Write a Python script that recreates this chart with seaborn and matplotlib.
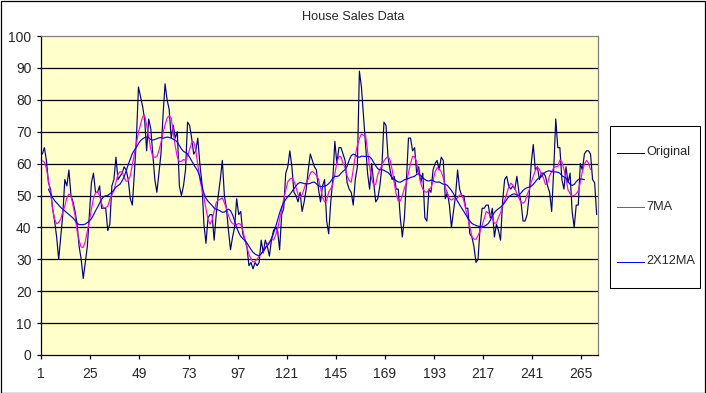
import numpy as np
import pandas as pd
import matplotlib
matplotlib.use("Agg")
import matplotlib.pyplot as plt
import seaborn as sns
from matplotlib.lines import Line2D
from matplotlib.patches import Rectangle

# Monthly new one-family house sales (Jan 1973 - Nov 1995)
sales = [
    55, 60, 68, 63, 65, 61, 54, 52, 46, 42, 37, 30,
    37, 44, 55, 53, 58, 50, 48, 45, 41, 34, 30, 24,
    29, 34, 44, 54, 57, 51, 51, 53, 46, 46, 46, 39,
    41, 53, 55, 62, 55, 56, 57, 59, 58, 55, 49, 47,
    57, 68, 84, 81, 78, 74, 64, 74, 71, 63, 55, 51,
    57, 63, 75, 85, 80, 77, 68, 72, 68, 70, 53, 50,
    53, 58, 73, 72, 68, 63, 64, 68, 60, 54, 41, 35,
    43, 44, 44, 36, 44, 50, 55, 61, 50, 46, 39, 33,
    37, 40, 49, 44, 45, 38, 36, 34, 28, 29, 27, 29,
    28, 29, 36, 32, 36, 34, 31, 36, 39, 40, 39, 33,
    44, 46, 57, 59, 64, 59, 51, 50, 48, 51, 45, 48,
    52, 58, 63, 61, 59, 58, 52, 48, 53, 55, 42, 38,
    48, 55, 67, 60, 65, 65, 63, 61, 54, 52, 51, 47,
    55, 59, 89, 84, 75, 66, 57, 52, 60, 54, 48, 49,
    53, 59, 73, 72, 62, 58, 55, 56, 52, 52, 43, 37,
    43, 55, 68, 68, 64, 65, 57, 59, 54, 57, 43, 42,
    52, 51, 58, 60, 61, 58, 62, 61, 49, 51, 47, 40,
    45, 50, 58, 52, 50, 50, 46, 46, 38, 37, 34, 29,
    30, 40, 46, 46, 47, 47, 43, 46, 37, 41, 39, 36,
    48, 55, 56, 53, 52, 53, 52, 56, 51, 48, 42, 42,
    44, 50, 60, 66, 58, 59, 55, 57, 57, 56, 53, 51,
    45, 58, 74, 65, 65, 55, 52, 59, 54, 57, 45, 40,
    47, 47, 60, 58, 63, 64, 64, 63, 55, 54, 44,
]
first_shown = 4          # chart starts at the 4th month of the series
series_names = ["Original", "7MA", "2X12MA"]
series_colors = ["#000080", "#FF00FF", "#0000FF"]
y_ticks = list(range(0, 101, 10))
x_tick_labels = list(range(1, 266, 24))
title = "House Sales Data"

s = pd.Series(sales, dtype=float)
ma7 = s.rolling(7, center=True).mean()
w = np.array([0.5] + [1.0] * 11 + [0.5]) / 12.0
ma2x12 = s.rolling(13, center=True).apply(lambda v: float(np.dot(v, w)), raw=True)

shown = slice(first_shown - 1, None)
pos = np.arange(1, len(s) - first_shown + 2)
df = pd.concat([
    pd.DataFrame({"pos": pos, "value": s[shown].values, "series": "Original"}),
    pd.DataFrame({"pos": pos, "value": ma7[shown].values, "series": "7MA"}),
    pd.DataFrame({"pos": pos, "value": ma2x12[shown].values, "series": "2X12MA"}),
]).dropna()

sns.set_style("white")
plt.rcParams["font.family"] = ["Liberation Sans", "DejaVu Sans"]

fig = plt.figure(figsize=(7.06, 3.93), dpi=100)
W, H = 706, 393
ax = fig.add_axes([41.3 / W, 1 - 355 / H, (597.7 - 41.3) / W, (355 - 36) / H])
ax.set_facecolor("#FFFFCC")

for yv in y_ticks[1:-1]:
    ax.axhline(yv, color="black", lw=0.9, zorder=1)

for name, col in zip(series_names, series_colors):
    sub = df[df["series"] == name]
    sns.lineplot(data=sub, x="pos", y="value", ax=ax, color=col, lw=0.85,
                 legend=False, zorder=3)

n = len(pos)
ax.set_xlim(0.5, n + 0.5)
ax.set_ylim(0, 100)
ax.set_yticks(y_ticks)
ax.set_yticklabels([str(v) for v in y_ticks], fontsize=10)
ax.set_xticks([v - 0.5 for v in x_tick_labels])
ax.set_xticklabels([str(v) for v in x_tick_labels], fontsize=10)
ax.tick_params(axis="both", direction="out", length=3, width=0.9, color="black",
               left=True, bottom=True)
ax.tick_params(axis="y", pad=4)
ax.tick_params(axis="x", pad=6)
ax.set_xlabel("")
ax.set_ylabel("")
for sp in ["left", "bottom"]:
    ax.spines[sp].set_color("black")
    ax.spines[sp].set_linewidth(0.9)
for sp in ["top", "right"]:
    ax.spines[sp].set_color("#808080")
    ax.spines[sp].set_linewidth(0.9)

fig.text(353 / W, 1 - 16.5 / H, title, ha="center", va="center", fontsize=9.2)

# Legend box drawn in figure pixels
fig.patches.append(Rectangle((609.5 / W, 1 - 287.5 / H), (699.5 - 609.5) / W,
                             (287.5 - 125.5) / H, transform=fig.transFigure,
                             fill=False, edgecolor="black", lw=0.75))
for name, col, yy in zip(series_names, series_colors, [152.5, 206.5, 261.5]):
    fig.lines.append(Line2D([616.5 / W, 643.5 / W], [1 - yy / H, 1 - yy / H],
                            transform=fig.transFigure, color=col, lw=0.7,
                            solid_capstyle="butt", antialiased=False))
    fig.text(646.5 / W, 1 - yy / H, name, ha="left", va="center", fontsize=9.2)

fig.patches.append(Rectangle((0.5 / W, 0.5 / H), (W - 1.5) / W, (H - 1.5) / H,
                             transform=fig.transFigure, fill=False,
                             edgecolor="black", lw=0.9))

fig.savefig("out.png", dpi=100, facecolor="white")
